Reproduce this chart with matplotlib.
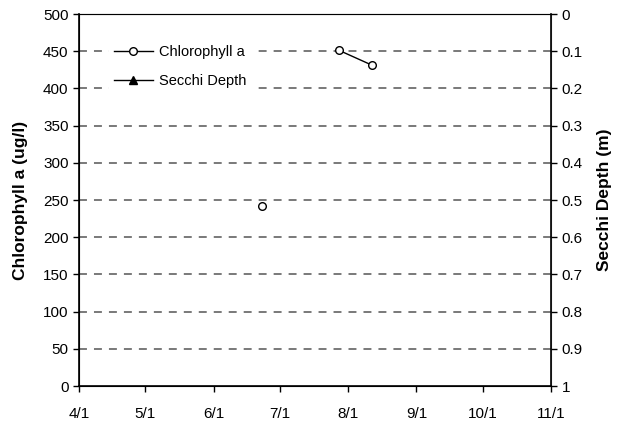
import matplotlib
matplotlib.use("Agg")
import matplotlib.pyplot as plt
import datetime as dt

plt.rcParams['font.family'] = ['Liberation Sans', 'DejaVu Sans']

# chlorophyll samples (ug/l)
chl_dates = [dt.date(2000, 6, 23), None, dt.date(2000, 7, 28), dt.date(2000, 8, 12)]
chl_vals = [242, None, 451, 431]
# secchi depth (m) - no readings
secchi_dates = []
secchi_vals = []

month_ticks = [dt.date(2000, m, 1) for m in range(4, 12)]
month_labels = ['%d/1' % m for m in range(4, 12)]

x = [d if d is not None else dt.date(2000, 7, 10) for d in chl_dates]
y = [v if v is not None else float('nan') for v in chl_vals]

fig = plt.figure(figsize=(6.27, 4.28), dpi=100)
ax = fig.add_axes([79/627, 1 - 386/428, (551 - 79)/627, (386 - 14)/428])

for v in range(50, 500, 50):
    ax.axhline(v, color='#555555', linestyle=(0, (5.2, 4.6)), linewidth=1.1, zorder=1)

ax.plot(x, y, color='black', linewidth=1, marker='o', markersize=5.5,
        markerfacecolor='white', markeredgecolor='black', label='Chlorophyll a', zorder=3)
ax.plot(secchi_dates, secchi_vals, color='black', linewidth=1, marker='^', markersize=6,
        markerfacecolor='black', label='Secchi Depth')

ax.set_xlim(dt.date(2000, 4, 1), dt.date(2000, 11, 1))
ax.set_ylim(0, 500)
ax.set_xticks(month_ticks)
ax.set_xticklabels(month_labels)
ax.set_yticks(range(0, 501, 50))
ax.tick_params(direction='out', length=4, labelsize=11, width=1)
ax.tick_params(axis='x', pad=11)
ax.set_ylabel('Chlorophyll a (ug/l)', fontweight='bold', fontsize=12.5)
ax.yaxis.set_label_coords(-0.108, 0.5)
for s in ['left', 'bottom']:
    ax.spines[s].set_linewidth(1.2)
for s in ['top', 'right']:
    ax.spines[s].set_color('#777777')

ax2 = ax.twinx()
ax2.set_ylim(1, 0)
ax2.set_yticks([i / 10 for i in range(11)])
ax2.set_yticklabels(['0', '0.1', '0.2', '0.3', '0.4', '0.5', '0.6', '0.7', '0.8', '0.9', '1'])
ax2.tick_params(direction='out', length=4, labelsize=11, width=1)
ax2.set_ylabel('Secchi Depth (m)', fontweight='bold', fontsize=12.5)
ax2.yaxis.set_label_coords(1.097, 0.5)
ax2.spines['right'].set_linewidth(1.2)

leg = ax.legend(loc='upper left', bbox_to_anchor=(0.049, 0.949), frameon=True,
                facecolor='white', edgecolor='white', framealpha=1,
                handlelength=2.7, fontsize=10.5, borderpad=0.3, labelspacing=1.05,
                handletextpad=0.4)
leg.set_zorder(2)

fig.savefig('out.png', dpi=100)
